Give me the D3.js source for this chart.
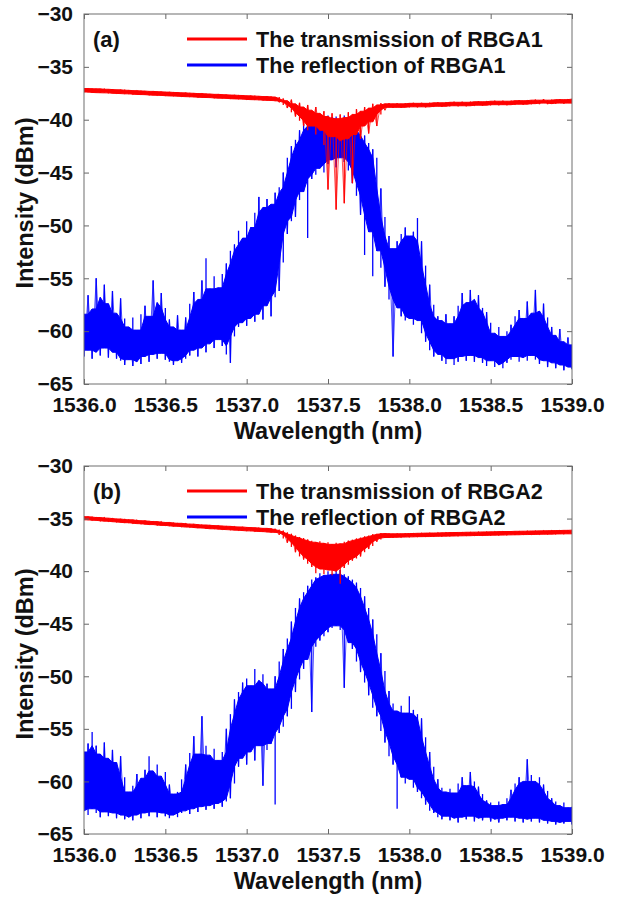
<!DOCTYPE html>
<html>
<head>
<meta charset="utf-8">
<script src="https://cdn.jsdelivr.net/npm/d3@7"></script>
<style>
  body { margin: 0; background: #fff; }
  text { font-family: "Liberation Sans", Arial, sans-serif; font-weight: bold; fill: #111; }
</style>
</head>
<body>
<div id="container"></div>
<script>
/* DATA (dBm) */
const wavelength = [1536.000,1536.025,1536.050,1536.075,1536.100,1536.125,1536.150,1536.175,1536.200,1536.225,
  1536.250,1536.275,1536.300,1536.325,1536.350,1536.375,1536.400,1536.425,1536.450,1536.475,
  1536.500,1536.525,1536.550,1536.575,1536.600,1536.625,1536.650,1536.675,1536.700,1536.725,
  1536.750,1536.775,1536.800,1536.825,1536.850,1536.875,1536.900,1536.925,1536.950,1536.975,
  1537.000,1537.025,1537.050,1537.075,1537.100,1537.125,1537.150,1537.175,1537.200,1537.225,
  1537.250,1537.275,1537.300,1537.325,1537.350,1537.375,1537.400,1537.425,1537.450,1537.475,
  1537.500,1537.525,1537.550,1537.575,1537.600,1537.625,1537.650,1537.675,1537.700,1537.725,
  1537.750,1537.775,1537.800,1537.825,1537.850,1537.875,1537.900,1537.925,1537.950,1537.975,
  1538.000,1538.025,1538.050,1538.075,1538.100,1538.125,1538.150,1538.175,1538.200,1538.225,
  1538.250,1538.275,1538.300,1538.325,1538.350,1538.375,1538.400,1538.425,1538.450,1538.475,
  1538.500,1538.525,1538.550,1538.575,1538.600,1538.625,1538.650,1538.675,1538.700,1538.725,
  1538.750,1538.775,1538.800,1538.825,1538.850,1538.875,1538.900,1538.925,1538.950,1538.975,1539.000];

// (a) RBGA1 transmission, upper / lower edge of the noisy trace
const transA_hi = [-37.00,-37.05,-37.02,-37.07,-37.08,-37.06,-37.12,-37.10,-37.15,-37.17,
  -37.15,-37.21,-37.22,-37.25,-37.23,-37.28,-37.29,-37.32,-37.30,-37.35,
  -37.36,-37.39,-37.37,-37.42,-37.43,-37.46,-37.44,-37.49,-37.50,-37.53,
  -37.51,-37.56,-37.57,-37.60,-37.58,-37.63,-37.64,-37.67,-37.65,-37.70,
  -37.71,-37.74,-37.72,-37.77,-37.78,-37.81,-37.79,-37.84,-37.86,-38.0,
  -38.2,-38.1,-38.5,-38.4,-38.8,-38.6,-39.1,-38.8,-39.4,-39.2,
  -39.7,-39.4,-39.9,-39.5,-39.8,-39.3,-39.5,-39.0,-39.2,-38.8,
  -38.9,-38.5,-38.6,-38.45,-38.5,-38.45,-38.5,-38.45,-38.5,-38.45,
  -38.45,-38.4,-38.45,-38.4,-38.45,-38.4,-38.4,-38.35,-38.4,-38.35,
  -38.35,-38.3,-38.35,-38.3,-38.35,-38.3,-38.3,-38.25,-38.3,-38.25,
  -38.25,-38.2,-38.25,-38.2,-38.25,-38.2,-38.2,-38.15,-38.2,-38.15,
  -38.15,-38.1,-38.15,-38.05,-38.15,-38.1,-38.1,-38.05,-38.1,-38.05,-38.05];
const transA_lo = [-37.38,-37.42,-37.44,-37.45,-37.47,-37.46,-37.50,-37.51,-37.53,-37.56,
  -37.55,-37.58,-37.61,-37.62,-37.63,-37.66,-37.68,-37.69,-37.70,-37.73,
  -37.75,-37.76,-37.77,-37.80,-37.82,-37.83,-37.84,-37.87,-37.89,-37.90,
  -37.91,-37.94,-37.96,-37.97,-37.98,-38.01,-38.03,-38.04,-38.05,-38.08,
  -38.10,-38.11,-38.12,-38.15,-38.17,-38.18,-38.20,-38.25,-38.35,-38.6,
  -38.9,-39.3,-39.7,-40.1,-40.6,-41.0,-40.6,-41.4,-41.0,-42.4,
  -46.6,-41.6,-48.5,-42.0,-47.9,-41.8,-46.0,-41.4,-41.8,-40.6,
  -41.3,-40.2,-40.6,-39.5,-39.1,-38.83,-38.88,-38.83,-38.88,-38.83,
  -38.83,-38.78,-38.83,-38.78,-38.83,-38.78,-38.78,-38.73,-38.78,-38.73,
  -38.73,-38.68,-38.73,-38.68,-38.73,-38.68,-38.68,-38.63,-38.68,-38.63,
  -38.63,-38.58,-38.63,-38.58,-38.63,-38.58,-38.58,-38.53,-38.58,-38.53,
  -38.53,-38.48,-38.53,-38.43,-38.53,-38.48,-38.48,-38.43,-38.48,-38.43,-38.43];

// (a) RBGA1 reflection
const reflA_hi = [-58.4,-56.6,-57.9,-55.0,-56.8,-55.6,-57.4,-56.2,-58.3,-56.9,
  -58.8,-59.6,-58.7,-59.9,-58.4,-57.6,-58.6,-55.2,-57.3,-56.4,
  -57.8,-58.9,-59.6,-58.5,-59.9,-58.7,-57.4,-56.3,-57.0,-55.2,
  -53.1,-56.0,-54.8,-55.9,-54.6,-53.6,-52.4,-51.8,-50.5,-51.2,
  -49.6,-50.2,-48.8,-47.3,-48.3,-47.5,-48.0,-46.9,-46.4,-45.0,
  -43.6,-42.5,-41.9,-41.0,-40.4,-40.0,-40.6,-39.9,-39.8,-40.1,
  -39.6,-39.8,-39.7,-40.0,-39.6,-40.2,-39.9,-40.6,-41.0,-41.5,
  -42.2,-42.8,-43.6,-46.5,-49.2,-51.0,-52.2,-51.5,-50.8,-50.2,
  -51.0,-50.6,-49.3,-51.5,-53.8,-55.6,-57.5,-58.6,-59.0,-58.4,
  -59.3,-58.6,-57.6,-56.4,-57.3,-56.1,-57.0,-56.6,-57.8,-58.2,
  -59.2,-60.2,-59.6,-60.5,-60.0,-59.4,-58.6,-58.0,-58.8,-57.2,
  -58.3,-56.1,-58.1,-57.4,-58.7,-59.6,-60.4,-59.8,-61.0,-60.6,-61.3];
const reflA_lo = [-62.4,-61.8,-62.6,-62.0,-62.3,-61.6,-62.5,-62.0,-62.6,-62.8,
  -63.2,-62.7,-63.3,-62.9,-63.1,-62.4,-62.9,-62.2,-62.6,-62.1,
  -62.7,-62.9,-63.2,-62.8,-63.0,-62.6,-62.3,-61.8,-62.4,-61.6,
  -62.0,-61.2,-61.6,-60.8,-61.4,-62.2,-63.0,-60.5,-59.6,-59.2,
  -59.5,-58.8,-59.1,-58.4,-58.9,-57.6,-58.6,-56.8,-56.2,-53.5,
  -50.8,-49.6,-49.2,-47.6,-46.8,-51.2,-45.6,-45.2,-44.6,-45.0,
  -44.2,-43.8,-44.5,-43.6,-44.0,-44.8,-46.0,-47.2,-49.0,-52.8,
  -50.6,-54.8,-52.4,-54.0,-55.8,-57.0,-62.4,-57.8,-58.6,-59.0,
  -58.8,-59.4,-59.0,-60.2,-61.0,-61.8,-62.4,-62.2,-62.8,-63.1,
  -62.6,-63.2,-62.9,-62.4,-62.8,-62.3,-62.9,-62.5,-63.0,-63.3,
  -62.8,-63.4,-63.2,-63.5,-63.0,-62.7,-62.4,-62.9,-62.5,-62.8,
  -62.3,-62.7,-63.1,-62.8,-63.4,-63.0,-63.5,-63.2,-63.7,-63.4,-63.6];

// (b) RBGA2 transmission
const transB_hi = [-34.75,-34.82,-34.80,-34.86,-34.90,-34.88,-34.95,-34.96,-35.00,-35.04,
  -35.02,-35.09,-35.12,-35.12,-35.18,-35.21,-35.20,-35.26,-35.29,-35.28,
  -35.34,-35.37,-35.36,-35.42,-35.45,-35.44,-35.50,-35.53,-35.52,-35.58,
  -35.61,-35.60,-35.64,-35.67,-35.68,-35.71,-35.73,-35.74,-35.78,-35.80,
  -35.80,-35.84,-35.86,-35.87,-35.90,-35.93,-35.93,-35.97,-36.05,-36.15,
  -36.3,-36.45,-36.6,-36.75,-36.85,-37.0,-37.1,-37.25,-37.15,-37.35,
  -37.25,-37.45,-37.3,-37.4,-37.2,-37.1,-37.0,-36.9,-36.8,-36.7,
  -36.6,-36.5,-36.45,-36.4,-36.4,-36.42,-36.45,-36.42,-36.44,-36.40,
  -36.42,-36.38,-36.40,-36.36,-36.38,-36.35,-36.37,-36.33,-36.35,-36.31,
  -36.33,-36.30,-36.32,-36.28,-36.30,-36.27,-36.29,-36.25,-36.27,-36.24,
  -36.26,-36.22,-36.24,-36.21,-36.23,-36.19,-36.21,-36.18,-36.20,-36.16,
  -36.18,-36.15,-36.17,-36.13,-36.15,-36.12,-36.14,-36.10,-36.12,-36.09,-36.10];
const transB_lo = [-35.12,-35.16,-35.17,-35.21,-35.25,-35.25,-35.30,-35.32,-35.36,-35.39,
  -35.39,-35.44,-35.48,-35.49,-35.53,-35.57,-35.57,-35.61,-35.65,-35.65,
  -35.69,-35.73,-35.73,-35.77,-35.81,-35.81,-35.85,-35.89,-35.89,-35.93,
  -35.97,-35.97,-36.00,-36.03,-36.05,-36.07,-36.10,-36.11,-36.14,-36.17,
  -36.17,-36.20,-36.23,-36.24,-36.27,-36.30,-36.31,-36.36,-36.55,-36.9,
  -37.3,-37.7,-38.2,-38.6,-38.9,-39.3,-39.6,-40.2,-39.8,-40.3,
  -39.9,-40.4,-40.0,-41.2,-39.7,-39.4,-39.0,-38.8,-38.6,-38.2,
  -37.9,-37.6,-37.2,-37.0,-36.85,-36.8,-36.82,-36.78,-36.80,-36.76,
  -36.78,-36.74,-36.76,-36.72,-36.74,-36.71,-36.73,-36.69,-36.71,-36.67,
  -36.69,-36.66,-36.68,-36.64,-36.66,-36.63,-36.65,-36.61,-36.63,-36.60,
  -36.62,-36.58,-36.60,-36.57,-36.59,-36.55,-36.57,-36.54,-36.56,-36.52,
  -36.54,-36.51,-36.53,-36.49,-36.51,-36.48,-36.50,-36.46,-36.48,-36.45,-36.46];

// (b) RBGA2 reflection
const reflB_hi = [-57.2,-56.4,-55.3,-56.6,-57.4,-56.3,-57.8,-57.0,-58.2,-57.6,
  -59.6,-61.0,-60.4,-59.3,-59.7,-58.9,-57.6,-59.0,-58.4,-59.5,
  -59.1,-60.3,-61.2,-61.0,-59.8,-58.4,-57.3,-55.7,-57.4,-53.8,
  -56.6,-57.5,-56.9,-58.0,-57.2,-55.0,-53.6,-52.2,-51.5,-50.6,
  -50.2,-50.9,-49.3,-50.4,-49.8,-50.7,-51.2,-50.0,-48.6,-47.4,
  -46.4,-44.8,-43.5,-42.6,-42.0,-41.4,-40.8,-40.6,-40.2,-40.4,
  -40.0,-40.3,-39.6,-39.9,-40.3,-40.5,-40.8,-41.1,-41.6,-42.4,
  -43.5,-44.6,-46.0,-47.8,-49.5,-51.4,-52.6,-53.3,-52.8,-53.5,
  -51.9,-53.2,-53.6,-54.0,-55.8,-57.2,-58.6,-59.8,-60.6,-61.0,
  -60.7,-61.1,-60.2,-59.6,-60.4,-59.1,-60.0,-60.5,-61.2,-61.8,
  -62.0,-62.3,-61.9,-62.2,-61.6,-60.8,-60.2,-59.6,-60.0,-57.9,
  -59.4,-60.0,-59.6,-60.3,-60.9,-61.6,-61.9,-62.3,-62.0,-62.5,-62.4];
const reflB_lo = [-62.8,-63.2,-62.6,-63.0,-63.4,-62.9,-63.3,-63.0,-63.5,-63.2,
  -63.6,-63.4,-63.7,-63.2,-63.5,-63.0,-63.3,-62.9,-63.4,-63.0,
  -63.3,-63.5,-63.2,-63.4,-63.0,-62.8,-63.1,-62.6,-62.9,-62.4,
  -62.7,-62.3,-62.6,-62.1,-62.4,-61.9,-61.6,-60.2,-58.6,-57.8,
  -58.4,-57.2,-58.0,-56.6,-60.4,-57.0,-56.4,-62.2,-55.4,-54.8,
  -53.8,-53.1,-51.5,-50.3,-49.3,-48.4,-53.4,-47.2,-46.6,-46.2,
  -45.8,-45.4,-45.2,-45.6,-51.1,-46.8,-47.4,-48.6,-49.6,-50.6,
  -51.8,-53.0,-53.8,-55.2,-56.3,-57.6,-58.4,-62.6,-59.6,-60.2,
  -59.8,-60.6,-61.0,-61.6,-62.2,-62.8,-63.0,-63.4,-63.6,-63.3,
  -63.7,-63.5,-63.9,-63.4,-63.6,-63.3,-63.8,-63.5,-63.7,-63.4,
  -63.8,-63.6,-63.9,-63.5,-63.7,-63.4,-63.8,-63.5,-63.9,-63.6,
  -63.8,-63.5,-63.9,-63.7,-64.0,-63.8,-64.1,-63.9,-64.0,-63.8,-64.1];

const xTicks = [1536.0, 1536.5, 1537.0, 1537.5, 1538.0, 1538.5, 1539.0];
const yTicks = [-30, -35, -40, -45, -50, -55, -60, -65];
const legendA = ["The transmission of RBGA1", "The reflection of RBGA1"];
const legendB = ["The transmission of RBGA2", "The reflection of RBGA2"];
const colors = ["#ff0000", "#0000ff"];

/* CONSTANTS */
const width = 617;
const height = 897;
const left = 84, right = 572;

const svg = d3.select("#container")
  .append("svg")
  .attr("width", width)
  .attr("height", height);

function drawPanel(top, bottom, tag, legend, trans, refl, id) {
  const xScale = d3.scaleLinear().domain([1536, 1539]).range([left, right]);
  const yScale = d3.scaleLinear().domain([-65, -30]).range([bottom, top]);

  const g = svg.append("g");

  g.append("clipPath").attr("id", id)
    .append("rect")
    .attr("x", left).attr("y", top)
    .attr("width", right - left).attr("height", bottom - top);

  // dense core of the noisy trace: the part every neighbouring sample covers
  const core = d3.area()
    .x(d => xScale(d.w))
    .y0(d => yScale(d.coreLo))
    .y1(d => yScale(d.coreHi));

  const plot = g.append("g").attr("clip-path", `url(#${id})`);
  // reflection under, transmission on top
  [[refl, colors[1]], [trans, colors[0]]].forEach(([s, c]) => {
    const lo = s[0], hi = s[1];
    const rows = wavelength.map((w, i) => {
      const a = Math.max(0, i - 1), b = Math.min(wavelength.length - 1, i + 1);
      let cHi = Math.min(hi[a], hi[i], hi[b]);
      let cLo = Math.max(lo[a], lo[i], lo[b]);
      if (cHi < cLo) { const m = (cHi + cLo) / 2; cHi = m; cLo = m; }
      return { w: w, lo: lo[i], hi: hi[i], coreLo: cLo, coreHi: cHi };
    });
    plot.append("path")
      .datum(rows)
      .attr("d", core)
      .attr("fill", c)
      .attr("stroke", c)
      .attr("stroke-width", 1);
    // the spikes: one hairline per sample from its low to its high reading
    plot.append("g")
      .selectAll("line")
      .data(rows)
      .join("line")
      .attr("x1", d => xScale(d.w))
      .attr("x2", d => xScale(d.w))
      .attr("y1", d => yScale(d.lo))
      .attr("y2", d => yScale(d.hi))
      .attr("stroke", c)
      .attr("stroke-width", 1.3);
    // thin trace joining the samples
    plot.append("path")
      .datum(rows)
      .attr("d", d3.line().x(d => xScale(d.w)).y((d, i) => yScale(i % 2 ? d.hi : d.lo)))
      .attr("fill", "none")
      .attr("stroke", c)
      .attr("stroke-width", 0.7);
  });

  // axes, MATLAB style box with inward ticks
  const fmt = d3.format(".1f");
  g.append("g")
    .attr("transform", `translate(0,${bottom})`)
    .call(d3.axisBottom(xScale).tickValues(xTicks).tickFormat(fmt).tickSizeInner(-5).tickSizeOuter(0).tickPadding(13));
  g.append("g")
    .attr("transform", `translate(0,${top})`)
    .call(d3.axisTop(xScale).tickValues(xTicks).tickFormat("").tickSizeInner(-5).tickSizeOuter(0));
  g.append("g")
    .attr("transform", `translate(${left},0)`)
    .call(d3.axisLeft(yScale).tickValues(yTicks).tickFormat(d3.format("d")).tickSizeInner(-5).tickSizeOuter(0).tickPadding(11));
  g.append("g")
    .attr("transform", `translate(${right},0)`)
    .call(d3.axisRight(yScale).tickValues(yTicks).tickFormat("").tickSizeInner(-5).tickSizeOuter(0));

  g.selectAll(".domain").remove();
  g.selectAll(".tick line").attr("stroke", "#666");
  g.selectAll(".tick text")
    .attr("fill", "#111")
    .style("font-size", "21px")
    .style("font-weight", "bold")
    .style("font-family", "'Liberation Sans', Arial, sans-serif");

  g.append("rect")
    .attr("x", left).attr("y", top)
    .attr("width", right - left).attr("height", bottom - top)
    .attr("fill", "none")
    .attr("stroke", "#6e6e6e")
    .attr("stroke-width", 1);

  // axis titles (a little larger than the tick labels)
  g.append("text")
    .attr("x", (left + right) / 2)
    .attr("y", bottom + 55)
    .attr("text-anchor", "middle")
    .style("font-size", "23.5px")
    .text("Wavelength (nm)");
  g.append("text")
    .attr("transform", `translate(33,${(top + bottom) / 2 + 4}) rotate(-90)`)
    .attr("text-anchor", "middle")
    .style("font-size", "23.5px")
    .text("Intensity (dBm)");

  // panel tag and legend
  g.append("text")
    .attr("x", 93)
    .attr("y", top + 33)
    .style("font-size", "22px")
    .text(tag);
  legend.forEach((name, i) => {
    const ly = top + 25 + i * 26;
    g.append("line")
      .attr("x1", 187).attr("x2", 247)
      .attr("y1", ly).attr("y2", ly)
      .attr("stroke", colors[i])
      .attr("stroke-width", 3);
    g.append("text")
      .attr("x", 256)
      .attr("y", ly + 7.7)
      .style("font-size", "21.6px")
      .text(name);
  });
}

drawPanel(14, 384, "(a)", legendA, [transA_lo, transA_hi], [reflA_lo, reflA_hi], "clipA");
drawPanel(466, 834, "(b)", legendB, [transB_lo, transB_hi], [reflB_lo, reflB_hi], "clipB");
</script>
</body>
</html>
